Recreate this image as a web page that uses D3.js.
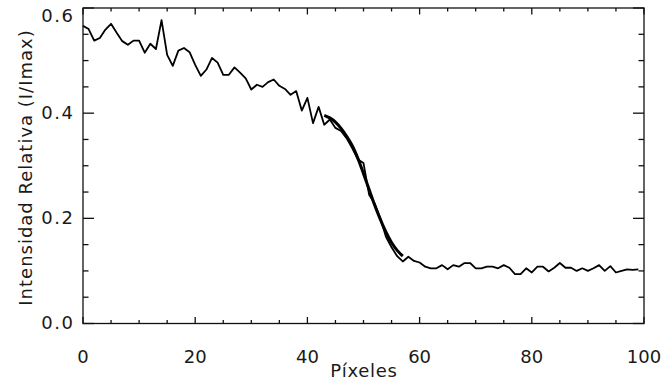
<!DOCTYPE html>
<html><head><meta charset="utf-8">
<script src="https://cdn.jsdelivr.net/npm/d3@7"></script>
<style>body{margin:0;background:#fff}svg{display:block}text{font-family:"DejaVu Sans",sans-serif;fill:#1a1a1a}</style>
</head><body><svg id="c" width="663" height="385"></svg>
<script>
const pixels = d3.range(0, 100);
const intensity = [
0.566,0.560,0.538,0.543,0.559,0.570,0.553,0.537,0.530,0.538,
0.538,0.515,0.532,0.522,0.577,0.511,0.490,0.519,0.524,0.516,
0.492,0.471,0.483,0.505,0.496,0.473,0.473,0.487,0.477,0.466,
0.445,0.454,0.450,0.459,0.464,0.452,0.446,0.435,0.442,0.405,
0.429,0.381,0.412,0.378,0.388,0.372,0.366,0.352,0.333,0.312,
0.305,0.245,0.228,0.200,0.165,0.145,0.128,0.118,0.127,0.119,
0.116,0.108,0.105,0.105,0.111,0.103,0.111,0.108,0.115,0.115,
0.105,0.105,0.108,0.108,0.105,0.111,0.106,0.094,0.094,0.105,
0.097,0.108,0.108,0.099,0.106,0.115,0.106,0.106,0.100,0.105,
0.100,0.105,0.111,0.100,0.109,0.097,0.100,0.103,0.102,0.103];
const fitX = [43,44,45,46,47,48,49,50,51,52,53,54,55,56,57];
const fitY = [0.396,0.391,0.383,0.371,0.356,0.338,0.314,0.285,0.255,0.225,0.198,0.174,0.154,0.139,0.128];
const xMajor = [0,20,40,60,80,100];
const yMajor = [0.0,0.2,0.4,0.6];
const xLabel = "Píxeles";
const yLabel = "Intensidad Relativa (I/Imax)";

const L=83, R=644, T=8, B=323.5;
const svg = d3.select("#c");
const x = d3.scaleLinear().domain([0,100]).range([L,R]);
const y = d3.scaleLinear().domain([0,0.6]).range([B,T]);

const ax = svg.append("g").attr("stroke","#111").attr("stroke-width",1.3).attr("fill","none");
ax.append("rect").attr("x",L).attr("y",T).attr("width",R-L).attr("height",B-T);
const xMinor = d3.range(0,101,5);
const yMinor = d3.range(0,0.6001,0.05);
xMinor.forEach(v=>{
  const len = (v%20===0)?6.5:3.5;
  ax.append("line").attr("x1",x(v)).attr("x2",x(v)).attr("y1",B).attr("y2",B-len);
  ax.append("line").attr("x1",x(v)).attr("x2",x(v)).attr("y1",T).attr("y2",T+len);
});
yMinor.forEach(v=>{
  const maj = Math.abs(Math.round(v*5)-v*5)<1e-6;
  const len = maj?11:5.5;
  ax.append("line").attr("x1",L).attr("x2",L+len).attr("y1",y(v)).attr("y2",y(v));
  ax.append("line").attr("x1",R).attr("x2",R-len).attr("y1",y(v)).attr("y2",y(v));
});

svg.append("g").selectAll("text").data(xMajor).join("text")
  .attr("x",d=>x(d)).attr("y",362.5).attr("text-anchor","middle").attr("font-size",18).text(d=>d);
svg.append("g").selectAll("text").data(yMajor).join("text")
  .attr("x",74.5).attr("y",d=>Math.max(y(d)+5.5,21.7)).attr("text-anchor","end").attr("font-size",18)
  .attr("letter-spacing",1.5).text(d=>d.toFixed(1));
svg.append("text").attr("x",(L+R)/2+0.4).attr("y",377).attr("text-anchor","middle").attr("font-size",18)
  .attr("letter-spacing",0.7).text(xLabel);
svg.append("text").attr("transform","translate(32,167.5) rotate(-90)").attr("text-anchor","middle").attr("font-size",18)
  .attr("letter-spacing",1).text(yLabel);

const line = d3.line().x((d,i)=>x(pixels[i])).y(d=>y(d));
svg.append("path").datum(intensity).attr("d",line).attr("fill","none").attr("stroke","#000").attr("stroke-width",1.8).attr("stroke-linejoin","round");
const fitLine = d3.line().x((d,i)=>x(fitX[i])).y(d=>y(d)).curve(d3.curveCatmullRom);
svg.append("path").datum(fitY).attr("d",fitLine).attr("fill","none").attr("stroke","#000").attr("stroke-width",3);
</script></body></html>
